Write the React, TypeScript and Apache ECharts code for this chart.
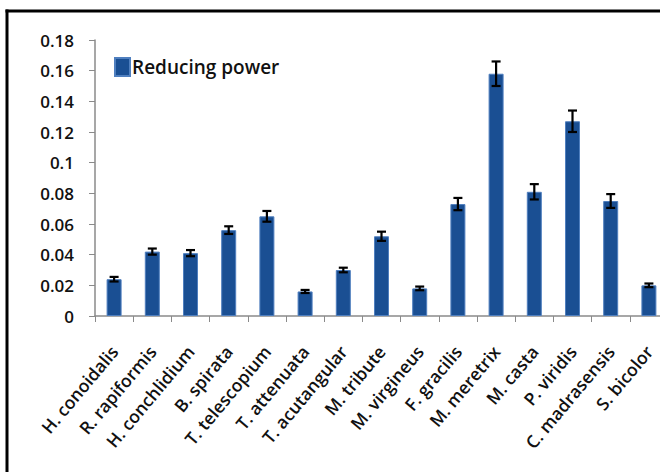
import React, { useEffect, useRef } from "react";
import * as echarts from "echarts";

// Species sampled and their reducing power (absorbance) with standard error
const species = [
  "H. conoidalis",
  "R. rapiformis",
  "H. conchlidium",
  "B. spirata",
  "T. telescopium",
  "T. attenuata",
  "T. acutangular",
  "M. tribute",
  "M. virgineus",
  "F. gracilis",
  "M. meretrix",
  "M. casta",
  "P. viridis",
  "C. madrasensis",
  "S. bicolor",
];
const reducingPower = [
  0.024, 0.042, 0.041, 0.056, 0.065, 0.016, 0.03, 0.052, 0.018, 0.073, 0.158,
  0.081, 0.127, 0.075, 0.02,
];
const errors = [
  0.0015, 0.002, 0.002, 0.0025, 0.0035, 0.001, 0.0015, 0.003, 0.0012, 0.004,
  0.008, 0.005, 0.007, 0.0045, 0.0012,
];
const yTicks = [0, 0.02, 0.04, 0.06, 0.08, 0.1, 0.12, 0.14, 0.16, 0.18];

const FONT = "'Open Sans', 'Noto Sans', sans-serif";

export default function App() {
  const ref = useRef<HTMLDivElement>(null);

  useEffect(() => {
    if (!ref.current) return;
    const chart = echarts.init(ref.current, undefined, { renderer: "svg" });

    const errorData = reducingPower.map((v, i) => [i, v - errors[i], v + errors[i]]);
    const frameStyle = { stroke: "#000000", lineWidth: 3 };

    chart.setOption({
      animation: false,
      backgroundColor: "#ffffff",
      graphic: [
        {
          type: "line",
          shape: { x1: 5.5, y1: 11, x2: 660, y2: 11 },
          style: frameStyle,
          silent: true,
          z: 100,
        },
        {
          type: "line",
          shape: { x1: 7, y1: 9.5, x2: 7, y2: 472 },
          style: frameStyle,
          silent: true,
          z: 100,
        },
      ],
      legend: {
        left: 109,
        top: 52,
        itemWidth: 15,
        itemHeight: 18,
        itemGap: 4,
        icon: "rect",
        data: ["Reducing power"],
        textStyle: {
          fontFamily: FONT,
          fontSize: 19,
          fontWeight: 600,
          color: "#111111",
          padding: [0, 0, 0, -3],
        },
      },
      grid: {
        left: 95,
        right: -8,
        top: 40,
        bottom: 156,
        outerBoundsMode: "none",
        containLabel: false,
      },
      xAxis: {
        type: "category",
        data: species,
        boundaryGap: true,
        axisLine: { lineStyle: { color: "#8a8a8a", width: 1.5 } },
        axisTick: { show: true, length: 6, lineStyle: { color: "#8a8a8a" } },
        axisLabel: {
          interval: 0,
          rotate: 50,
          margin: 32,
          fontFamily: FONT,
          fontSize: 17.5,
          fontWeight: 600,
          color: "#111111",
        },
      },
      yAxis: {
        type: "value",
        min: 0,
        max: yTicks[yTicks.length - 1],
        interval: 0.02,
        axisLine: { show: true, lineStyle: { color: "#8a8a8a", width: 1.5 } },
        axisTick: { show: true, length: 6, lineStyle: { color: "#8a8a8a" } },
        splitLine: { show: false },
        axisLabel: {
          margin: 21,
          fontFamily: FONT,
          fontSize: 17,
          fontWeight: 600,
          color: "#111111",
          formatter: (v: number) => String(Number(v.toFixed(2))),
        },
      },
      series: [
        {
          name: "Reducing power",
          type: "bar",
          data: reducingPower,
          barWidth: 15,
          itemStyle: {
            color: "#1a4f93",
            borderColor: "#4f7fbf",
            borderWidth: 1,
          },
        },
        {
          name: "error",
          type: "custom",
          data: errorData,
          z: 10,
          renderItem: (params: any, api: any) => {
            const i = api.value(0);
            const lo = api.coord([i, api.value(1)]);
            const hi = api.coord([i, api.value(2)]);
            const cap = 4.5;
            const style = { stroke: "#000000", lineWidth: 2.2 };
            return {
              type: "group",
              children: [
                { type: "line", shape: { x1: lo[0], y1: lo[1], x2: hi[0], y2: hi[1] }, style },
                { type: "line", shape: { x1: lo[0] - cap, y1: lo[1], x2: lo[0] + cap, y2: lo[1] }, style },
                { type: "line", shape: { x1: hi[0] - cap, y1: hi[1], x2: hi[0] + cap, y2: hi[1] }, style },
              ],
            };
          },
        },
      ],
    });

    return () => chart.dispose();
  }, []);

  return (
    <div
      ref={ref}
      style={{ position: "absolute", left: 0, top: 0, width: 660, height: 472 }}
    />
  );
}
